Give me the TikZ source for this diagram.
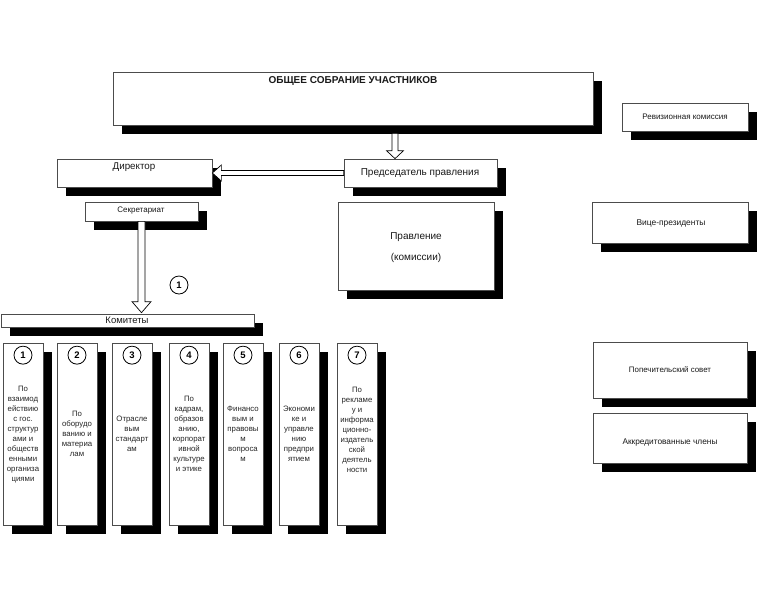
\documentclass[tikz,border=0pt]{standalone}
\usepackage{fontspec}
\setmainfont{Liberation Sans}
\usetikzlibrary{shadows,fit,calc}
\tikzset{
 sbox/.style={draw=black!70, fill=white, line width=0.7pt, inner sep=0pt,
   drop shadow={shadow xshift=9pt, shadow yshift=-9pt, fill=black, opacity=1}},
 harrow/.style={draw=black, fill=white, line width=0.7pt, line join=miter},
 num/.style={circle, draw=black, line width=0.8pt, minimum size=18pt, inner sep=0pt,
   font=\fontsize{9.5}{10}\selectfont\bfseries},
 coltext/.style={align=center, font=\fontsize{7.8}{10}\selectfont, inner sep=0pt, text=black!85},
 lbl/.style={inner sep=0pt, text=black!90},
}
\newcommand\dnarrow[5]{%
 \draw[harrow] let \p1=#1, \p2=#2 in
  (\x1-#3pt,\y1) -- (\x1-#3pt,\y2+#5pt) -- (\x1-#4pt,\y2+#5pt) -- (\x1,\y2)
  -- (\x1+#4pt,\y2+#5pt) -- (\x1+#3pt,\y2+#5pt) -- (\x1+#3pt,\y1) -- cycle;}
\newcommand\lfarrow[5]{%
 \draw[harrow] let \p1=#1, \p2=#2 in
  (\x1,\y1+#3pt) -- (\x2+#5pt,\y1+#3pt) -- (\x2+#5pt,\y1+#4pt) -- (\x2,\y1)
  -- (\x2+#5pt,\y1-#4pt) -- (\x2+#5pt,\y1-#3pt) -- (\x1,\y1-#3pt) -- cycle;}
\begin{document}
\begin{tikzpicture}[x=1pt,y=-1pt]
\fill[white] (0,0) rectangle (757,606);
\useasboundingbox (0,0) rectangle (757,606);

% boxes
\node[sbox, fit={(113,72) (593,125)}] (main) {};
\node[sbox, fit={(57,159) (212,187)}] (dir) {};
\node[sbox, fit={(344,159) (497,187)}] (chair) {};
\node[sbox, fit={(85,202) (198,221)}] (sec) {};
\node[sbox, fit={(338,202) (494,290)}] (prav) {};
\node[sbox, fit={(1,314) (254,327)}] (kom) {};
\node[sbox, fit={(622,103) (748,131)}] (rev) {};
\node[sbox, fit={(592,202) (748,243)}] (vice) {};
\node[sbox, fit={(593,342) (747,398)}] (pop) {};
\node[sbox, fit={(593,413) (747,463)}] (akk) {};

% columns
\foreach \i/\l in {1/3,2/57,3/112,4/169,5/223,6/279,7/337} {
  \node[sbox, fit={(\l,343) (\l+40,525)}] (c\i) {};
  \node[num] (n\i) at ($(c\i.north)+(0,12.5)$) {\i};
}

% labels
\node[lbl, font=\fontsize{10}{11}\selectfont\bfseries] (tmain) at (353,81) {ОБЩЕЕ СОБРАНИЕ УЧАСТНИКОВ};
\node[lbl, font=\fontsize{9.8}{10}\selectfont] (tdir) at (134,167) {Директор};
\node[lbl, font=\fontsize{10}{10}\selectfont] (tchair) at (420,173) {Председатель правления};
\node[lbl, font=\fontsize{8}{10}\selectfont] (tsec) at (141,211) {Секретариат};
\node[lbl, font=\fontsize{9.5}{10}\selectfont] (tkom) at (127,320.5) {Комитеты};
\node[lbl, font=\fontsize{10}{10}\selectfont] (tprav1) at (416,237) {Правление};
\node[lbl, font=\fontsize{10}{10}\selectfont] (tprav2) at (416,258) {(комиссии)};
\node[lbl, font=\fontsize{8}{10}\selectfont] (trev) at (685,117) {Ревизионная комиссия};
\node[lbl, font=\fontsize{8.4}{10}\selectfont] (tvice) at (671,223) {Вице-президенты};
\node[lbl, font=\fontsize{7.9}{10}\selectfont] (tpop) at (670,370) {Попечительский совет};
\node[lbl, font=\fontsize{8.3}{10}\selectfont] (takk) at (670,442) {Аккредитованные члены};
\node[num] (circ1) at (179,285) {1};

\node[coltext] (t1) at ($(c1.center)+(0,1)$) {По\\взаимод\\ействию\\с гос.\\структур\\ами и\\обществ\\енными\\организа\\циями};
\node[coltext] (t2) at (c2.center) {По\\оборудо\\ванию и\\материа\\лам};
\node[coltext] (t3) at (c3.center) {Отрасле\\вым\\стандарт\\ам};
\node[coltext] (t4) at (c4.center) {По\\кадрам,\\образов\\анию,\\корпорат\\ивной\\культуре\\и этике};
\node[coltext] (t5) at (c5.center) {Финансо\\вым и\\правовы\\м\\вопроса\\м};
\node[coltext] (t6) at (c6.center) {Экономи\\ке и\\управле\\нию\\предпри\\ятием};
\node[coltext] (t7) at ($(c7.center)+(0,-4)$) {По\\рекламе\\у и\\информа\\ционно-\\издатель\\ской\\деятель\\ности};

% arrows
\dnarrow{($(395,0 |- main.south)+(0,8)$)}{(395,0 |- chair.north)}{3}{8.5}{8}
\lfarrow{(chair.west)}{(dir.east)}{2.5}{8}{9}
\dnarrow{(sec.south)}{($(sec.south |- kom.north)+(0,-1)$)}{3.5}{9.5}{11}
\end{tikzpicture}
\end{document}
